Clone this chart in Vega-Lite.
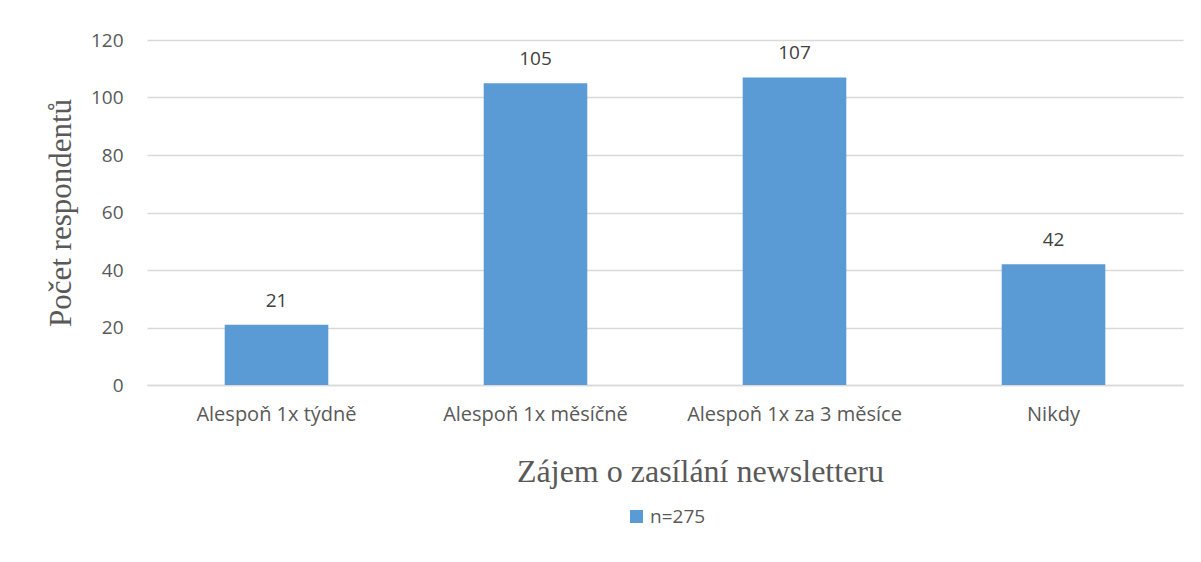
{
  "$schema": "https://vega.github.io/schema/vega-lite/v6.json",
  "width": 1036,
  "height": 345,
  "autosize": "none",
  "padding": {"left": 147, "top": 40, "right": 18, "bottom": 177},
  "background": "white",
  "data": {"values": [
    {"kategorie": "Alespoň 1x týdně", "pocet": 21, "serie": "n=275"},
    {"kategorie": "Alespoň 1x měsíčně", "pocet": 105, "serie": "n=275"},
    {"kategorie": "Alespoň 1x za 3 měsíce", "pocet": 107, "serie": "n=275"},
    {"kategorie": "Nikdy", "pocet": 42, "serie": "n=275"}
  ]},
  "encoding": {
    "x": {
      "field": "kategorie", "type": "nominal", "sort": null,
      "scale": {"paddingInner": 0.6, "paddingOuter": 0.3},
      "axis": {
        "title": "Zájem o zasílání newsletteru",
        "titleFont": "Liberation Serif", "titleFontSize": 32, "titleFontWeight": "normal",
        "titleColor": "#595959", "titlePadding": 32, "titleX": 553, "titleAlign": "center",
        "labelAngle": 0, "labelFont": "Open Sans", "labelFontSize": 20, "labelColor": "#595959",
        "labelPadding": 19, "labelLimit": 400, "ticks": false, "domainColor": "#D9D9D9", "domainWidth": 1.5
      }
    },
    "y": {
      "field": "pocet", "type": "quantitative",
      "scale": {"domain": [0, 120]},
      "axis": {
        "values": [0, 20, 40, 60, 80, 100, 120],
        "title": "Počet respondentů",
        "titleFont": "Liberation Serif", "titleFontSize": 31, "titleFontWeight": "normal",
        "titleColor": "#595959", "titlePadding": 13,
        "labelFont": "Open Sans", "labelFontSize": 19, "labelColor": "#595959",
        "labelPadding": 24, "ticks": false, "domain": false,
        "gridColor": "#D9D9D9", "gridWidth": 1.5
      }
    }
  },
  "layer": [
    {
      "mark": {"type": "bar"},
      "encoding": {
        "color": {
          "field": "serie", "type": "nominal",
          "scale": {"range": ["#5B9BD5"]},
          "legend": {
            "title": null, "orient": "none", "legendX": 480, "legendY": 467,
            "symbolType": "square", "symbolSize": 169, "symbolStrokeWidth": 0,
            "labelFont": "Open Sans", "labelFontSize": 19, "labelColor": "#595959"
          }
        }
      }
    },
    {
      "mark": {"type": "text", "baseline": "alphabetic", "dy": -18, "font": "Open Sans", "fontSize": 19, "color": "#404040"},
      "encoding": {"text": {"field": "pocet", "type": "quantitative"}}
    }
  ],
  "config": {"view": {"stroke": null}}
}
